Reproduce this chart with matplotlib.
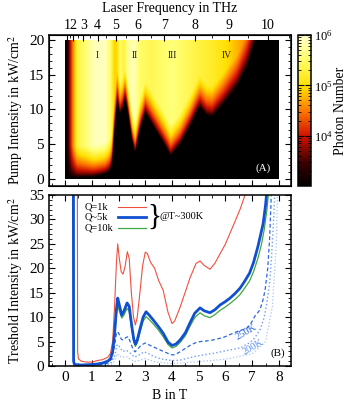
import numpy as np
import matplotlib
matplotlib.use("Agg")
import matplotlib.pyplot as plt
from matplotlib.colors import LinearSegmentedColormap, LogNorm
from matplotlib.ticker import MultipleLocator, FixedLocator

plt.rcParams['font.family'] = ['Liberation Serif', 'DejaVu Serif']
plt.rcParams['mathtext.fontset'] = 'stix'
plt.rcParams['font.size'] = 10

# ---------------- data: top panel (photon number map) ----------------
# lasing threshold (pump intensity, kW/cm^2) vs B (T)
thr_B = [0.0, 0.5, 1.0, 1.3, 1.5, 1.65, 1.75, 1.85, 1.95, 2.05, 2.15, 2.25, 2.35, 2.5, 2.62,
         2.8, 3.0, 3.3, 3.67, 3.95, 4.3, 4.67, 4.93, 5.05, 5.3, 5.5, 5.9, 6.43, 6.8, 7.1, 7.25, 8.0]
thr_P = [0.3, 0.2, 0.3, 0.5, 0.7, 1.0, 2.0, 7.0, 11.2, 9.3, 10.0, 11.5, 9.5, 5.6, 3.7,
         7.0, 9.5, 7.5, 5.2, 3.3, 4.9, 7.5, 9.6, 10.3, 9.1, 8.9, 10.6, 13.2, 16.0, 19.5, 22.0, 30.0]
# saturated photon number (log10) vs B
sat_B = [0.0, 0.08, 0.2, 0.3, 0.45, 0.8, 1.1, 1.5, 1.7, 1.85, 1.95, 2.05, 2.2, 2.35, 2.55,
         2.8, 3.2, 3.6, 4.0, 4.5, 5.0, 5.5, 6.0, 6.5, 7.0, 8.0]
sat_L = [3.0, 3.2, 4.0, 4.6, 5.3, 5.6, 5.9, 5.9, 5.5, 4.9, 5.0, 5.5, 5.3, 5.7, 5.9,
         5.5, 5.4, 5.5, 5.6, 5.45, 5.3, 5.2, 5.0, 4.75, 4.4, 4.0]
regions = ['I', 'II', 'III', 'IV']
region_B = [1.2, 2.62, 4.0, 6.06]

# laser frequency ticks (THz) on top axis
freq_ticks = [1, 2, 3, 4, 5, 6, 7, 8, 9, 10]
freq_minor = [1.5, 2.5, 3.5, 4.5, 5.5, 6.5, 7.5, 8.5, 9.5, 10.5]
freq_const = 3.63  # f = c*sqrt(B)

# ---------------- data: bottom panel (threshold curves) ----------------
q1k_B = [0.46, 0.47, 0.5, 0.6, 0.8, 1.0, 1.2, 1.4, 1.6, 1.7, 1.78, 1.85, 1.92, 1.97, 2.03, 2.1, 2.17,
         2.25, 2.33, 2.4, 2.48, 2.56, 2.63, 2.7, 2.8, 2.9, 3.0, 3.08, 3.2, 3.35, 3.5, 3.67, 3.85,
         4.0, 4.1, 4.3, 4.5, 4.67, 4.9, 5.05, 5.2, 5.42, 5.6, 5.8, 6.0, 6.17, 6.35, 6.54, 6.7, 6.75]
q1k_I = [40, 3.0, 1.5, 1.0, 0.8, 0.8, 1.1, 1.3, 1.8, 2.6, 5.0, 12.0, 21.0, 25.0, 22.0, 19.3, 18.8,
         20.5, 23.4, 22.0, 15.0, 10.0, 8.4, 10.0, 15.0, 20.5, 23.3, 23.0, 21.2, 20.0, 17.5, 15.5, 11.0,
         8.7, 9.2, 12.0, 15.2, 18.0, 21.0, 21.5, 20.6, 19.8, 21.0, 23.0, 25.0, 27.2, 29.5, 32.0, 34.5, 36.0]

q5k_B = [0.31, 0.32, 0.35, 0.6, 1.0, 1.2, 1.4, 1.6, 1.7, 1.78, 1.85, 1.92, 1.97, 2.03, 2.12, 2.2,
         2.32, 2.4, 2.5, 2.57, 2.63, 2.7, 2.8, 2.92, 3.03, 3.15, 3.3, 3.5, 3.67, 3.85, 4.0, 4.15,
         4.3, 4.5, 4.67, 4.85, 5.05, 5.2, 5.42, 5.6, 5.8, 6.0, 6.17, 6.35, 6.54, 6.7, 6.9, 7.05,
         7.21, 7.32, 7.41, 7.5, 7.55]
q5k_I = [40, 1.0, 0.3, 0.2, 0.3, 0.4, 0.6, 1.0, 1.5, 3.0, 6.5, 11.5, 13.9, 12.5, 10.4, 11.2,
         12.9, 12.2, 8.0, 5.5, 4.5, 5.3, 7.5, 10.0, 11.1, 10.4, 9.4, 8.0, 6.7, 4.9, 4.2, 4.5,
         5.3, 6.8, 8.8, 10.8, 11.9, 11.3, 10.9, 11.5, 12.5, 13.2, 13.9, 14.8, 15.9, 17.2, 19.0, 21.2,
         24.4, 27.0, 29.2, 33.0, 36.0]

q10k_B = [0.33, 0.34, 0.37, 0.6, 1.0, 1.2, 1.4, 1.6, 1.7, 1.78, 1.85, 1.92, 1.97, 2.03, 2.12, 2.2,
          2.32, 2.4, 2.5, 2.57, 2.63, 2.7, 2.8, 2.92, 3.03, 3.15, 3.3, 3.5, 3.67, 3.85, 4.0, 4.15,
          4.3, 4.5, 4.67, 4.85, 5.05, 5.2, 5.42, 5.6, 5.8, 6.0, 6.17, 6.35, 6.54, 6.7, 6.9, 7.05,
          7.21, 7.35, 7.45, 7.55, 7.62]
q10k_I = [40, 1.0, 0.3, 0.2, 0.3, 0.35, 0.5, 0.9, 1.3, 2.7, 6.0, 10.5, 12.3, 11.3, 9.8, 10.4,
          11.8, 11.2, 7.3, 4.9, 4.0, 4.7, 6.8, 9.2, 10.1, 9.5, 8.6, 7.3, 6.0, 4.4, 3.7, 4.0,
          4.8, 6.2, 8.1, 9.9, 10.9, 10.3, 9.9, 10.5, 11.4, 12.1, 12.8, 13.6, 14.6, 15.8, 17.4, 19.3,
          22.0, 25.0, 28.0, 32.0, 36.0]

t250_B = [0.31, 0.32, 0.4, 1.0, 1.4, 1.6, 1.75, 1.85, 1.93, 2.0, 2.1, 2.17, 2.27, 2.36, 2.45, 2.55,
          2.62, 2.72, 2.85, 3.0, 3.15, 3.35, 3.55, 3.8, 3.95, 4.1, 4.3, 4.5, 4.7, 4.9, 5.05, 5.25,
          5.5, 5.9, 6.2, 6.5, 6.78, 6.95, 7.1, 7.29, 7.4, 7.48, 7.58, 7.65, 7.72]
t250_I = [40, 0.5, 0.1, 0.15, 0.3, 0.6, 1.5, 4.0, 7.0, 6.8, 5.5, 5.3, 5.8, 6.0, 4.8, 3.3,
          2.9, 3.5, 4.3, 4.7, 4.3, 3.8, 3.3, 2.7, 2.3, 2.3, 2.9, 3.6, 4.3, 4.8, 5.0, 5.1,
          5.3, 5.8, 6.5, 7.2, 7.6, 8.7, 10.2, 11.5, 13.5, 15.5, 20.0, 26.0, 36.0]

t200_B = [0.31, 0.32, 0.4, 1.2, 1.5, 1.7, 1.85, 1.95, 2.03, 2.15, 2.3, 2.42, 2.6, 2.75, 2.95, 3.1,
          3.3, 3.55, 3.8, 4.0, 4.3, 4.6, 4.9, 5.1, 5.55, 6.0, 6.55, 6.92, 7.1, 7.3, 7.45, 7.55,
          7.65, 7.72, 7.8, 7.85]
t200_I = [40, 0.3, 0.05, 0.1, 0.2, 0.5, 2.0, 4.4, 4.0, 3.0, 3.2, 2.7, 1.8, 2.2, 2.9, 2.6,
          2.0, 1.5, 1.3, 1.1, 1.2, 1.6, 2.0, 2.2, 2.6, 3.1, 3.7, 4.8, 5.8, 7.5, 10.0, 13.0,
          17.0, 22.0, 30.0, 36.0]

tlow_B = [1.6, 1.8, 1.95, 2.1, 2.3, 2.6, 3.0, 3.4, 4.0, 5.0, 6.0, 7.0, 7.5, 7.75, 7.9, 7.95]
tlow_I = [0.2, 0.5, 2.5, 1.8, 1.9, 0.9, 1.5, 0.8, 0.5, 0.9, 1.4, 2.5, 5.0, 12.0, 25.0, 36.0]

legend_labels = ['Q=1k', 'Q~5k', 'Q=10k']
temp_note = '@T~300K'

# ---------------- figure ----------------
W, H = 353, 403
fig = plt.figure(figsize=(W / 100, H / 100), dpi=100)

def fr(x0, y0, x1, y1):
    return [x0 / W, 1 - y1 / H, (x1 - x0) / W, (y1 - y0) / H]

ax1 = fig.add_axes(fr(49, 35, 291, 186))
cax = fig.add_axes(fr(298, 35, 311, 186))
ax2 = fig.add_axes(fr(49, 195, 291, 366))

cmap = LinearSegmentedColormap.from_list('photon', [
    (0.0, '#000000'), (0.15, '#3a0000'), (0.33, '#d01000'), (0.5, '#ff7a00'),
    (0.66, '#ffe000'), (0.85, '#ffff70'), (1.0, '#ffffd0')])
norm = LogNorm(1e3, 1e6)

Bg = np.linspace(0, 8, 500)
Pg = np.linspace(0, 19.85, 300)
BB, PP = np.meshgrid(Bg, Pg)
Pth = np.interp(BB, thr_B, thr_P)
Lsat = np.interp(BB, sat_B, sat_L)
frac = np.clip((PP - Pth) / 4.5, 0, 1) ** 0.6
N = 10 ** (3 + (Lsat - 3) * frac)
im = ax1.imshow(N, origin='lower', extent=[0, 8, 0, 19.85], aspect='auto',
                cmap=cmap, norm=norm, interpolation='bilinear')

xlim = (-0.6, 8.45)
ax1.set_xlim(*xlim)
ax1.set_ylim(-1, 20.7)
ax1.set_yticks([0, 5, 10, 15, 20])
ax1.yaxis.set_minor_locator(MultipleLocator(1))
ax1.xaxis.set_major_locator(MultipleLocator(1))
ax1.xaxis.set_minor_locator(MultipleLocator(0.5))
ax1.set_xticklabels([])
ax1.tick_params(which='both', direction='in', right=True, labelsize=11)
ax1.tick_params(which='major', length=4)
ax1.tick_params(which='minor', length=2)
ax1.set_ylabel('Pump Intensity in kW/cm$^2$', fontsize=10, labelpad=3)
for lab, bx in zip(regions, region_B):
    ax1.text(bx, 17.8, lab, fontsize=7, ha='center', va='center', color='#202020')
ax1.text(7.4, 1.6, '(A)', fontsize=8, ha='center', va='center', color='white')

axt = ax1.twiny()
axt.set_xlim(*xlim)
axt.xaxis.set_major_locator(FixedLocator([(f / freq_const) ** 2 for f in freq_ticks]))
axt.xaxis.set_minor_locator(FixedLocator([(f / freq_const) ** 2 for f in freq_minor]))
axt.set_xticklabels([str(f) for f in freq_ticks])
axt.tick_params(which='both', direction='in', labelsize=10, pad=2)
axt.tick_params(which='major', length=4)
axt.tick_params(which='minor', length=2)
axt.set_xlabel('Laser Frequency in THz', fontsize=10, labelpad=5)

cb = fig.colorbar(im, cax=cax)
cb.set_ticks([1e4, 1e5, 1e6])
cax.tick_params(which='both', direction='in', left=True, right=True, labelsize=9, pad=2)
cax.tick_params(which='major', length=4)
cax.tick_params(which='minor', length=2)
cb.set_label('Photon Number', fontsize=10)
cax.yaxis.set_label_coords(2.8, 0.5)

# bottom panel
ax2.plot(t200_B, t200_I, ':', color='#6f9ff0', lw=1.0)
ax2.plot(tlow_B, tlow_I, ':', color='#a8c4f4', lw=0.9)
ax2.plot(t250_B, t250_I, '--', color='#2a66e0', lw=0.9, dashes=(3, 2))
ax2.plot(q1k_B, q1k_I, '-', color='#f05040', lw=0.8)
ax2.plot(q10k_B, q10k_I, '-', color='#40a840', lw=0.9)
ax2.plot(q5k_B, q5k_I, '-', color='#1050d0', lw=2.0)

ax2.set_xlim(*xlim)
ax2.set_ylim(0, 35)
ax2.xaxis.set_major_locator(MultipleLocator(1))
ax2.xaxis.set_minor_locator(MultipleLocator(0.5))
ax2.yaxis.set_major_locator(MultipleLocator(5))
ax2.yaxis.set_minor_locator(MultipleLocator(1))
ax2.tick_params(which='both', direction='in', top=True, right=True, labelsize=11)
ax2.tick_params(which='major', length=4)
ax2.tick_params(which='minor', length=2)
ax2.set_xlabel('B in T', fontsize=10, labelpad=4)
ax2.set_ylabel('Treshold Intensity in kW/cm$^2$', fontsize=10, labelpad=3)

leg_y = [32.6, 30.5, 28.3]
leg_col = ['#f05040', '#1050d0', '#40a840']
leg_lw = [0.8, 2.0, 0.9]
for lab, yy, c, lw in zip(legend_labels, leg_y, leg_col, leg_lw):
    ax2.text(0.75, yy, lab, fontsize=7.5, ha='left', va='center')
    ax2.plot([1.98, 3.03], [yy, yy], color=c, lw=lw)
ax2.text(3.08, 30.6, '}', fontsize=21, ha='left', va='center')
ax2.text(3.52, 30.5, temp_note, fontsize=7.5, ha='left', va='center')

ax2.text(6.79, 6.9, '250K', fontsize=7.5, color='#2a66e0', rotation=30, ha='center', va='center')
ax2.text(7.03, 3.9, '200K', fontsize=7.5, color='#5a8ff0', rotation=30, ha='center', va='center')
ax2.text(7.96, 2.7, '(B)', fontsize=8, ha='center', va='center')

for a in (ax1, ax2, cax):
    for s in a.spines.values():
        s.set_linewidth(1.1)

fig.savefig('out.png', dpi=100)
